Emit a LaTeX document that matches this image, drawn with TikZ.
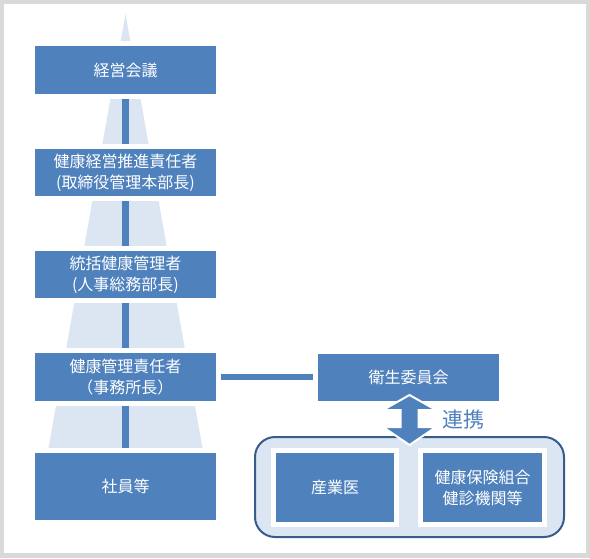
\documentclass[tikz,border=0pt]{standalone}
\usepackage{fontspec}
\newfontfamily\jp{Noto Sans CJK JP}
\definecolor{boxblue}{HTML}{4F81BD}
\definecolor{lightblue}{HTML}{DCE6F2}
\definecolor{darkblue}{HTML}{385D8A}
\definecolor{framegray}{HTML}{D9D9D9}
\begin{document}
\begin{tikzpicture}[x=1pt,y=-1pt,
  box/.style={rectangle,fill=boxblue,draw=white,line width=5pt,inner sep=0pt,
    text=white,font=\jp\fontsize{16}{21}\selectfont,align=center,
    minimum width=186pt},
  conn/.style={draw=boxblue,line width=6.5pt},
  group/.style={rectangle,rounded corners=20pt,fill=lightblue,draw=darkblue,line width=2pt,
    inner sep=0pt,minimum width=309pt,minimum height=100pt}]
\useasboundingbox (0,0) rectangle (590,558);
\fill[framegray] (0,0) rectangle (590,558);
\fill[white] (3.5,4) rectangle (586,553);
% pyramid
\fill[lightblue] (125.5,14) -- (203,451) -- (48,451) -- cycle;
% left column
\node[box,minimum height=53pt] (b1) at (125.5,70) {経営会議};
\node[box,minimum height=52pt] (b2) at (125.5,172.5) {健康経営推進責任者\\(取締役管理本部長)};
\node[box,minimum height=52pt] (b3) at (125.5,274.5) {統括健康管理者\\(人事総務部長)};
\node[box,minimum height=53pt] (b4) at (125.5,377) {健康管理責任者\\（事務所長）};
\node[box,minimum height=72pt] (b5) at (125.5,486.5) {社員等};
\draw[conn] (b1) -- (b2);
\draw[conn] (b2) -- (b3);
\draw[conn] (b3) -- (b4);
\draw[conn] (b4) -- (b5);
% right side
\node[box,minimum height=52pt] (eisei) at (408.5,377) {衛生委員会};
\draw[conn] (b4.east) -- (b4.east -| eisei.west);
\node[group] (grp) at (409.5,487) {};
\node[box,minimum width=123pt,minimum height=74pt] (sangyo) at (335,487.5) {産業医};
\node[box,minimum width=124pt,minimum height=74pt] (kenpo) at (482.5,487.5) {健康保険組合\\健診機関等};
% double arrow (連携)
\coordinate (atip) at (409.5,395);
\filldraw[fill=boxblue,draw=white,line width=2pt,line join=miter]
  (atip) -- ++(26.5,15) -- ++(-17.5,0) -- ++(0,17) -- ++(17.5,0)
  -- ++(-26.5,18) -- ++(-26.5,-18) -- ++(17.5,0) -- ++(0,-17) -- ++(-17.5,0) -- cycle;
\node[text=boxblue,font=\jp\fontsize{21}{24}\selectfont,inner sep=0pt,anchor=west] (renkei) at (442,420) {連携};
\end{tikzpicture}
\end{document}
